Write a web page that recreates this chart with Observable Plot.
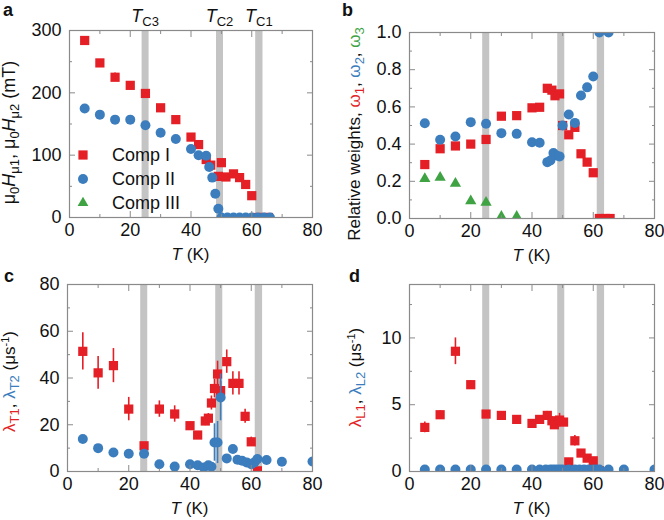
<!DOCTYPE html>
<html><head><meta charset="utf-8">
<script src="https://cdn.jsdelivr.net/npm/d3@7"></script>
<script src="https://cdn.jsdelivr.net/npm/@observablehq/plot@0.6"></script>
<style>
body{margin:0;background:#fff;}
#wrap{position:relative;width:664px;height:520px;overflow:hidden;font-family:"Liberation Sans",Arial,sans-serif;}
#wrap svg{position:absolute;overflow:visible;}
</style></head><body><div id="wrap"></div>
<script>
// ---------- data ----------
const xMajor = [0, 20, 40, 60, 80];
const xMinor = [10, 30, 50, 70];
const bandStart = [23.9, 48.4, 61.3];
const bandEnd = [26.2, 50.7, 63.7];
const bandLabels = ["C3", "C2", "C1"];

// panel a: internal fields (mT)
const aT1 = [5, 10, 15, 20, 25, 30, 35, 40, 42.5, 45, 46.5, 49, 50, 51.5, 54, 56, 58, 60, 62, 64, 65.5];
const aH1 = [284, 248, 225, 212, 199, 176, 157, 129, 117, 93, 84, 66, 88, 65, 70, 64, 53, 35, 0, 0, 0];
const aE1 = [4, 3, 7, 3, 3, 3, 3, 3, 3, 3, 3, 3, 3, 3, 3, 3, 3, 3, 0, 0, 0];
const aT2 = [5, 10, 15, 20, 25, 30, 35, 40, 42.5, 45, 46, 47, 48, 49, 50, 52, 54, 56, 58, 60, 62, 64, 66];
const aH2 = [175, 165, 157, 157, 148, 136, 126, 110, 100, 99, 81, 64, 38, 14, 0, 0, 0, 0, 0, 0, 0, 0, 0];
const legendNames = ["Comp I", "Comp II", "Comp III"];

// panel b: relative weights
const bT1 = [5, 10, 15, 20, 25, 30, 35, 40, 42.5, 45, 46.5, 47.5, 49, 50, 52, 54, 56, 58, 60, 62, 64, 65.5];
const bW1 = [0.29, 0.375, 0.39, 0.40, 0.425, 0.55, 0.553, 0.595, 0.598, 0.70, 0.69, 0.66, 0.67, 0.50, 0.45, 0.49, 0.348, 0.303, 0.246, 0, 0, 0];
const bT2 = [5, 10, 15, 20, 25, 30, 35, 40, 42.5, 45, 46, 47, 48, 49, 50, 52, 54, 56, 58, 60, 62, 65];
const bW2 = [0.512, 0.423, 0.441, 0.518, 0.509, 0.459, 0.455, 0.41, 0.407, 0.303, 0.312, 0.352, 0.339, 0.334, 0.50, 0.559, 0.514, 0.661, 0.705, 0.763, 1, 1];
const bT3 = [5, 10, 15, 20, 25, 30, 35];
const bW3 = [0.214, 0.22, 0.188, 0.094, 0.086, 0.01, 0.01];

// panel c: transverse relaxation rates (1/us)
const cT1 = [5, 10, 15, 20, 25, 30, 35, 40, 42.5, 45, 46, 47, 48, 49, 50, 52, 54, 56, 58, 60, 62];
const cL1 = [51.4, 42.2, 45.3, 26.7, 11, 26.7, 24.6, 19.6, 15.6, 21.6, 22.8, 29.3, 35.5, 41.7, 34.6, 47, 37.7, 37.7, 23.6, 12.7, 0.3];
const cE1 = [8, 7, 7.3, 5, 1, 3.5, 3.5, 1.5, 1.5, 2, 2, 3, 4, 5.5, 4, 5, 5, 5, 3, 2, 0.5];
const cT2 = [5, 10, 15, 20, 25, 30, 35, 40, 42.5, 44.5, 46, 47, 48, 49, 50, 52, 54, 55.5, 57, 58.5, 60, 61, 62, 65, 70, 80];
const cL2 = [13.9, 10, 8.1, 7.6, 7.6, 3.1, 2.1, 3.1, 2.7, 1.7, 2.7, 2.0, 12.4, 12.4, 31.7, 5.6, 9.6, 5, 4.6, 3.9, 3.1, 3.9, 5.3, 4.9, 4.2, 4.3];
const cE2 = [1, 1, 0.8, 0.8, 0.8, 0.5, 0.5, 0.5, 0.5, 0.5, 0.5, 0.5, 8, 9, 10, 1, 1.5, 0.5, 0.5, 0.5, 0.5, 0.5, 0.5, 0.5, 0.5, 0.5];

// panel d: longitudinal relaxation rates (1/us)
const dT1 = [5, 10, 15, 20, 25, 30, 35, 40, 42.5, 45, 46.5, 47.3, 49, 50.3, 52, 54, 56, 58, 60, 62];
const dL1 = [3.3, 4.25, 9.0, 6.5, 4.3, 4.2, 3.9, 3.6, 3.9, 4.2, 3.8, 3.5, 3.85, 3.7, 0.72, 2.3, 1.38, 1.0, 0.8, 0.05];
const dE1 = [0.4, 0.3, 1.0, 0.3, 0.2, 0.2, 0.2, 0.2, 0.2, 0.3, 0.3, 0.3, 0.5, 0.3, 0.15, 0.4, 0.2, 0.2, 0.2, 0.1];
const dT2 = [5, 10, 15, 20, 25, 30, 35, 40, 42.5, 44.5, 46, 47, 48, 49, 50, 52, 54, 55.5, 57, 58.5, 60, 61, 62, 65, 70, 80];
const dL2 = [0.15, 0.15, 0.15, 0.15, 0.15, 0.15, 0.15, 0.15, 0.15, 0.15, 0.15, 0.15, 0.15, 0.15, 0.15, 0.15, 0.15, 0.15, 0.15, 0.15, 0.15, 0.15, 0.15, 0.15, 0.15, 0.15];

// ---------- styling ----------
const RED = "#e41f26", BLUE = "#3b7dbd", GREEN = "#3fa344";
const BAND = "#c4c4c4", FRAME = "#8a8a8a";
const FONT = "'Liberation Sans', Arial, sans-serif";

const rows = (T, V, E) => T.map((t, i) => ({T: t, v: V[i], e: E ? E[i] : 0}));
const bandData = bandStart.map((s, i) => ({x1: s, x2: bandEnd[i], lab: bandLabels[i]}));

function dots(data, symbol, fill, r) {
  return Plot.dot(data, {x: "T", y: "v", symbol, r, fill, stroke: "none", clip: true});
}
function errs(data, stroke) {
  return Plot.ruleX(data.filter(d => d.e > 0), {x: "T", y1: d => d.v - d.e, y2: d => d.v + d.e, stroke, strokeWidth: 1.6, clip: true});
}

function panel(cfg) {
  const marks = [
    Plot.rect(bandData, {x1: "x1", x2: "x2", fill: BAND}),
    ...cfg.layers,
    Plot.frame({stroke: FRAME, strokeWidth: 1.2}),
    Plot.axisX({anchor: "bottom", ticks: xMajor, tickSize: 0, tickPadding: 6, label: null, fill: "#111"}),
    Plot.axisX({anchor: "bottom", ticks: xMajor, tickSize: -6, tickFormat: () => "", label: null, stroke: FRAME}),
    Plot.axisX({anchor: "bottom", ticks: xMinor, tickSize: -3, tickFormat: () => "", label: null, stroke: FRAME}),
    Plot.axisX({anchor: "top", ticks: xMajor, tickSize: -6, tickFormat: () => "", label: null, stroke: FRAME}),
    Plot.axisX({anchor: "top", ticks: xMinor, tickSize: -3, tickFormat: () => "", label: null, stroke: FRAME}),
    Plot.axisY({anchor: "left", ticks: cfg.yMajor, tickSize: 0, tickPadding: 8, tickFormat: cfg.yFmt, label: null, fill: "#111"}),
    Plot.axisY({anchor: "left", ticks: cfg.yMajor, tickSize: -6, tickFormat: () => "", label: null, stroke: FRAME}),
    Plot.axisY({anchor: "left", ticks: cfg.yMinor, tickSize: -3, tickFormat: () => "", label: null, stroke: FRAME}),
    Plot.axisY({anchor: "right", ticks: cfg.yMajor, tickSize: -6, tickFormat: () => "", label: null, stroke: FRAME}),
    Plot.axisY({anchor: "right", ticks: cfg.yMinor, tickSize: -3, tickFormat: () => "", label: null, stroke: FRAME})
  ];
  const svg = Plot.plot({
    width: 332, height: 260,
    marginLeft: cfg.m[0], marginRight: cfg.m[1], marginTop: cfg.m[2], marginBottom: cfg.m[3],
    x: {domain: [0, 80]},
    y: {domain: cfg.yDomain},
    style: {fontSize: "18px", fontFamily: FONT, background: "transparent", overflow: "visible", color: "#111"},
    marks
  });
  svg.style.left = cfg.pos[0] + "px";
  svg.style.top = cfg.pos[1] + "px";
  document.getElementById("wrap").appendChild(svg);
  const s = d3.select(svg);
  const xs = svg.scale("x"), ys = svg.scale("y");
  const fx0 = xs.apply(0), fx1 = xs.apply(80);
  const fy0 = ys.apply(cfg.yDomain[0]), fy1 = ys.apply(cfg.yDomain[1]);
  // panel letter
  s.append("text").attr("x", cfg.letter[1]).attr("y", cfg.letter[2]).attr("text-anchor", "start")
    .attr("font-weight", "bold").attr("font-size", 18).attr("font-family", FONT).text(cfg.letter[0]);
  // x title
  const xt = s.append("text").attr("x", (fx0 + fx1) / 2).attr("y", fy0 + 43)
    .attr("text-anchor", "middle").attr("font-size", 17).attr("font-family", FONT).attr("fill", "#111");
  xt.append("tspan").attr("font-style", "italic").text("T");
  xt.append("tspan").text(" (K)");
  // y title
  const yt = s.append("text")
    .attr("transform", `translate(${cfg.ylab[0]},${(fy0 + fy1) / 2 + cfg.ylab[1]}) rotate(-90)`)
    .attr("text-anchor", "middle").attr("font-size", cfg.yfs || 17).attr("font-family", FONT).attr("fill", "#111");
  for (const part of cfg.ytitle) {
    const t = yt.append("tspan").text(part.t);
    if (part.c) t.attr("fill", part.c);
    if (part.i) t.attr("font-style", "italic");
    if (part.sub) t.attr("font-size", 13).attr("dy", 4);
    if (part.sup) t.attr("font-size", 11).attr("dy", -6);
    if (part.back) t.attr("dy", part.back);
  }
  return {s, xs, ys, fx0, fx1, fy0, fy1};
}

// Panel a
const A1 = rows(aT1, aH1, aE1), A2 = rows(aT2, aH2);
const pa = panel({
  pos: [0, 0], m: [69, 20, 30, 43], yDomain: [0, 300], yMajor: [0, 100, 200, 300], yMinor: [50, 150, 250],
  yFmt: d3.format("d"), yfs: 18,
  layers: [errs(A1, RED), dots(A1, "square", RED, 5.2), dots(A2, "circle", BLUE, 5)],
  letter: ["a", 3, 16], ylab: [15, 9],
  ytitle: [{t: "\u03bc"}, {t: "0", sub: 1}, {t: "H", i: 1, back: -4}, {t: "\u03bc1", sub: 1}, {t: ", \u03bc", back: -4},
           {t: "0", sub: 1}, {t: "H", i: 1, back: -4}, {t: "\u03bc2", sub: 1}, {t: " (mT)", back: -4}]
});
// T_C labels above bands
for (const b of bandData) {
  const t = pa.s.append("text").attr("x", pa.xs.apply((b.x1 + b.x2) / 2)).attr("y", pa.fy1 - 8)
    .attr("text-anchor", "middle").attr("font-size", 18).attr("font-family", FONT).attr("fill", "#111");
  t.append("tspan").attr("font-style", "italic").text("T");
  t.append("tspan").attr("font-size", 13).attr("dy", 4).text(b.lab);
}
// legend
const legSym = [d3.symbolSquare, d3.symbolCircle, d3.symbolTriangle];
const legCol = [RED, BLUE, GREEN];
const legSize = [Math.PI * 5.2 * 5.2, Math.PI * 25, Math.PI * 16];
legendNames.forEach((name, i) => {
  const y = pa.fy0 - 62 + i * 24;
  pa.s.append("path").attr("d", d3.symbol(legSym[i], legSize[i])()).attr("fill", legCol[i])
    .attr("transform", `translate(${pa.fx0 + 14},${y})`);
  pa.s.append("text").attr("x", pa.fx0 + 43).attr("y", y).attr("dy", "0.35em").attr("text-anchor", "start")
    .attr("font-size", 18).attr("font-family", FONT).attr("fill", "#111").text(name);
});

// Panel b
const B1 = rows(bT1, bW1), B2 = rows(bT2, bW2), B3 = rows(bT3, bW3);
panel({
  pos: [332, 0], m: [77, 10, 32, 42], yDomain: [0, 1], yMajor: [0, 0.2, 0.4, 0.6, 0.8, 1.0],
  yMinor: [0.1, 0.3, 0.5, 0.7, 0.9], yFmt: d3.format(".1f"),
  layers: [dots(B3, "triangle", GREEN, 4.2), dots(B1, "square", RED, 5.2), dots(B2, "circle", BLUE, 5)],
  letter: ["b", 10, 16], ylab: [28, 9],
  ytitle: [{t: "Relative weights, "}, {t: "\u03c9", c: RED}, {t: "1", c: RED, sub: 1}, {t: ", ", back: -4},
           {t: "\u03c9", c: BLUE}, {t: "2", c: BLUE, sub: 1}, {t: ", ", back: -4},
           {t: "\u03c9", c: GREEN}, {t: "3", c: GREEN, sub: 1}]
});

// Panel c
const C1 = rows(cT1, cL1, cE1), C2 = rows(cT2, cL2, cE2);
panel({
  pos: [0, 260], m: [67, 20, 24, 49], yDomain: [0, 80], yMajor: [0, 20, 40, 60, 80], yMinor: [10, 30, 50, 70],
  yFmt: d3.format("d"),
  layers: [errs(C1, RED), dots(C1, "square", RED, 5.2), errs(C2, BLUE), dots(C2, "circle", BLUE, 5)],
  letter: ["c", 4, 22], ylab: [15, 4],
  ytitle: [{t: "\u03bb", c: RED}, {t: "T1", c: RED, sub: 1}, {t: ", ", back: -4}, {t: "\u03bb", c: BLUE},
           {t: "T2", c: BLUE, sub: 1}, {t: " (\u03bcs", back: -4}, {t: "-1", sup: 1}, {t: ")", back: 6}]
});

// Panel d
const D1 = rows(dT1, dL1, dE1), D2 = rows(dT2, dL2);
panel({
  pos: [332, 260], m: [77, 10, 24, 49], yDomain: [0, 14], yMajor: [0, 5, 10], yMinor: [2.5, 7.5, 12.5],
  yFmt: d3.format("d"),
  layers: [errs(D1, RED), dots(D1, "square", RED, 5.2), dots(D2, "circle", BLUE, 5)],
  letter: ["d", 17, 22], ylab: [29, 0],
  ytitle: [{t: "\u03bb", c: RED}, {t: "L1", c: RED, sub: 1}, {t: ", ", back: -4}, {t: "\u03bb", c: BLUE},
           {t: "L2", c: BLUE, sub: 1}, {t: " (\u03bcs", back: -4}, {t: "-1", sup: 1}, {t: ")", back: 6}]
});
</script></body></html>
